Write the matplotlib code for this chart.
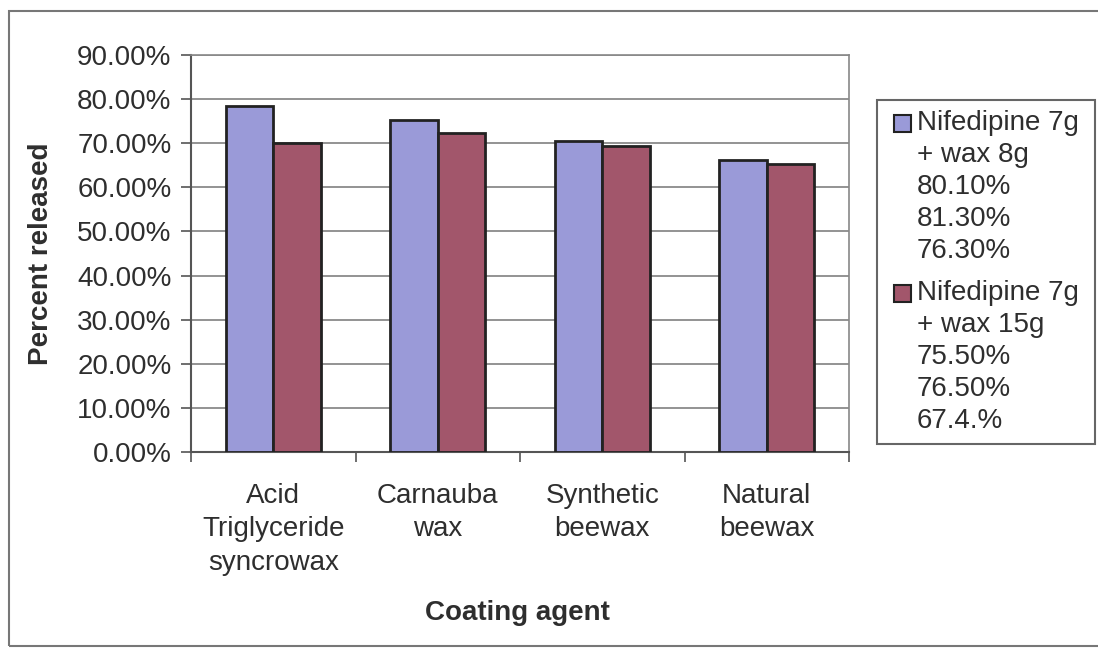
import matplotlib
matplotlib.use("Agg")
import matplotlib.pyplot as plt
import matplotlib.patches as mpatches
import numpy as np

plt.rcParams["font.family"] = ["Liberation Sans", "DejaVu Sans"]

CATEGORIES = ["Acid\nTriglyceride\nsyncrowax", "Carnauba\nwax", "Synthetic\nbeewax", "Natural\nbeewax"]
WAX_8G = [0.785, 0.752, 0.705, 0.661]
WAX_15G = [0.700, 0.723, 0.693, 0.654]
SERIES_LABELS = [
    "Nifedipine 7g\n+ wax 8g\n80.10%\n81.30%\n76.30%",
    "Nifedipine 7g\n+ wax 15g\n75.50%\n76.50%\n67.4.%",
]
Y_TICKS = [0.0, 0.1, 0.2, 0.3, 0.4, 0.5, 0.6, 0.7, 0.8, 0.9]

BLUE = "#9a9ad8"
RED = "#a2566b"
TEXT = "#2e2e2e"
FS = 20

W, H = 1098, 648
fig = plt.figure(figsize=(W / 100, H / 100), dpi=100)

# outer chart frame
fig.patches.append(mpatches.Rectangle((9 / W, 1 - 646 / H), (W + 20) / W, (646 - 11) / H,
                                      transform=fig.transFigure, fill=False,
                                      edgecolor="#777777", linewidth=1.5))

ax = fig.add_axes([191 / W, 1 - 452 / H, 658 / W, 397 / H])
x = np.arange(len(CATEGORIES))
bw = 0.29
ax.bar(x - bw / 2, WAX_8G, bw, color=BLUE, edgecolor="#222222", linewidth=2, zorder=3)
ax.bar(x + bw / 2, WAX_15G, bw, color=RED, edgecolor="#222222", linewidth=2, zorder=3)

ax.set_xlim(-0.5, len(CATEGORIES) - 0.5)
ax.set_ylim(0, 0.9)
ax.set_yticks(Y_TICKS)
ax.set_yticklabels([f"{v * 100:.2f}%" for v in Y_TICKS], fontsize=FS, color=TEXT)
ax.yaxis.grid(True, color="#808080", linewidth=1.2, zorder=0)

ax.set_xticks(x)
ax.set_xticklabels(CATEGORIES, fontsize=FS, color=TEXT, linespacing=1.38)
ax.tick_params(axis="x", which="major", length=0, pad=22)
ax.set_xticks(np.arange(len(CATEGORIES) + 1) - 0.5, minor=True)
ax.tick_params(axis="x", which="minor", length=7, width=1.2, color="#555555", direction="out")
ax.tick_params(axis="y", length=7, width=1.2, color="#555555", pad=7)

for s in ["top", "right"]:
    ax.spines[s].set_color("#888888")
    ax.spines[s].set_linewidth(1.2)
for s in ["left", "bottom"]:
    ax.spines[s].set_color("#555555")
    ax.spines[s].set_linewidth(1.5)

ax.set_ylabel("Percent released", fontsize=FS, fontweight="bold", color=TEXT)
ax.yaxis.set_label_coords((54 - 191) / 658, 0.5)
fig.text(517 / W, 1 - 613 / H, "Coating agent", fontsize=FS, fontweight="bold",
         color=TEXT, ha="center", va="center")

# legend drawn by hand so the swatch sits on the first text line
fig.patches.append(mpatches.Rectangle((877 / W, 1 - 444 / H), (1095 - 877) / W, (444 - 100) / H,
                                      transform=fig.transFigure, facecolor="white",
                                      edgecolor="#666666", linewidth=1.5))
line_step = 32
y0 = 123
for color, label in zip([BLUE, RED], SERIES_LABELS):
    lines = label.split("\n")
    fig.patches.append(mpatches.Rectangle((894 / W, 1 - (y0 + 9) / H), 17 / W, 17 / H,
                                          transform=fig.transFigure, facecolor=color,
                                          edgecolor="#222222", linewidth=1.5))
    for i, ln in enumerate(lines):
        fig.text(917 / W, 1 - (y0 + i * line_step) / H, ln, fontsize=FS, color=TEXT,
                 ha="left", va="center")
    y0 += len(lines) * line_step + 10

fig.savefig("out.png", dpi=100)
